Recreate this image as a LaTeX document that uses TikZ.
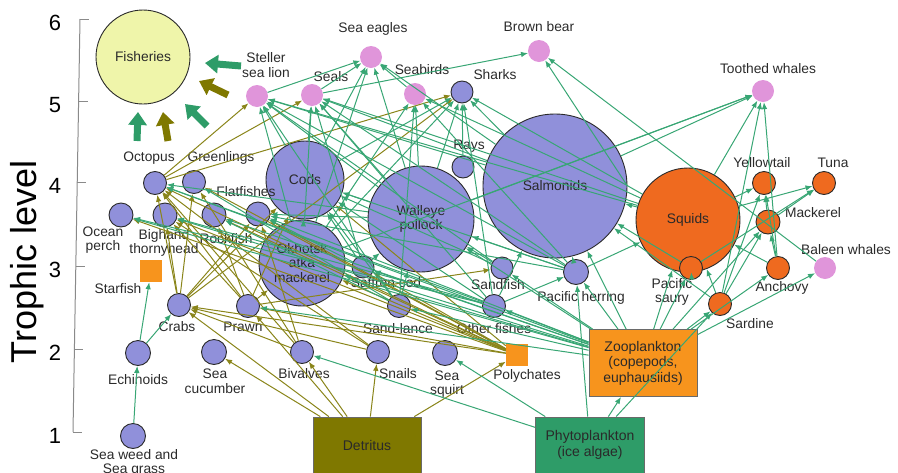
\documentclass[tikz,border=0pt]{standalone}
\usepackage{fontspec}
\setmainfont{Liberation Sans}
\usetikzlibrary{arrows.meta}
\definecolor{fishfill}{HTML}{9090DA}
\definecolor{hotorange}{HTML}{EF6A1F}
\definecolor{paleorange}{HTML}{F7941D}
\definecolor{mammal}{HTML}{E095DA}
\definecolor{fishery}{HTML}{EFF5AA}
\definecolor{detcol}{HTML}{7F7800}
\definecolor{phycol}{HTML}{2E9C68}
\definecolor{greenflow}{HTML}{38A674}
\definecolor{oliveflow}{HTML}{8A851A}
\definecolor{ink}{HTML}{2A2A2A}
\definecolor{axisgray}{HTML}{8A8A8A}
\begin{document}
\begin{tikzpicture}[x=1pt,y=-1pt,
  font=\fontsize{13.8}{14.5}\selectfont,
  every node/.style={text=ink},
  sp/.style={circle,draw=ink,line width=0.9pt,fill=fishfill,minimum size=#1,inner sep=0pt,align=center},
  sp/.default=23pt,
  hot/.style={sp=#1,fill=hotorange},
  hot/.default=23pt,
  mam/.style={circle,fill=mammal,minimum size=22pt,inner sep=0pt},
  sq/.style={rectangle,fill=paleorange,minimum size=22pt,inner sep=0pt},
  lbl/.style={align=center,inner sep=0pt},
  ge/.style={draw=greenflow,line width=1pt,-{Latex[length=7pt,width=5.5pt]}},
  oe/.style={draw=oliveflow,line width=1pt,-{Latex[length=7pt,width=5.5pt]}},
  catch/.style={line width=7pt,-{Triangle[length=13pt,width=18pt]}},
  base/.style={rectangle,draw=ink!70,line width=0.8pt,align=center,inner sep=0pt,font=\fontsize{14}{15.5}\selectfont},
]
\useasboundingbox (0,0) rectangle (898,472);

% ---- trophic level axis ----
\draw[axisgray,line width=1pt] (80,19) -- (73,432);
\foreach \yy/\xx/\n in {19/80/6, 101/78.6/5, 182/77.2/4, 266/75.8/3, 349/74.4/2, 432/73/1}{
  \draw[axisgray,line width=1pt] (\xx,\yy) -- ++(9,0);
  \node[font=\fontsize{22}{22}\selectfont,text=black] (tick\n) at (55,\yy+4) {\n};
}
\node[rotate=90,font=\fontsize{36}{36}\selectfont,text=black] (axistitle) at (27,262) {Trophic level};

% ---- species and groups ----
\node[sp=94pt,fill=fishery] (fisheries) at (143,57) {Fisheries};

\node[mam] (sealion)   at (257,96) {};
\node[mam] (seals)     at (312,95) {};
\node[mam] (seaeagles) at (371,57) {};
\node[mam] (seabirds)  at (415,94) {};
\node[mam] (brownbear) at (539,51) {};
\node[mam] (toothed)   at (763,91) {};
\node[mam] (baleen)    at (825,268) {};

\node[sp=22pt] (sharks) at (462,92) {};
\node[sp=22pt] (rays)   at (463,167) {};
\node[sp=78pt] (cods)   at (305,180) {Cods};
\node[sp=106pt] (walleye) at (421,219) {Walleye\\pollock};
\node[sp=144pt] (salmonids) at (555,186) {Salmonids};
\node[hot=104pt] (squids) at (688,220) {Squids};
\node[sp=86pt] (okhotsk) at (302,263) {Okhotsk\\atka\\mackerel};

\node[sp] (octopus)    at (155,183) {};
\node[sp] (greenlings) at (194,182) {};
\node[sp=24pt] (flatfishes) at (258,214) {};
\node[sp=24pt] (oceanperch) at (121,215) {};
\node[sp=24pt] (bighand)    at (165,215) {};
\node[sp=24pt] (rockfish)   at (214,215) {};
\node[sq] (starfish) at (151,271) {};
\node[sp] (crabs) at (179,305) {};
\node[sp] (prawn) at (248,306) {};
\node[sp=22pt] (saffron) at (363,267) {};
\node[sp] (sandlance) at (399,306) {};
\node[sp=22pt] (sandfish) at (502,268) {};
\node[sp] (otherfish) at (494,306) {};
\node[sp=25pt] (herring) at (576,272) {};
\node[hot] (saury) at (691,268) {};
\node[hot] (sardine) at (720,304) {};
\node[hot] (anchovy) at (778,268) {};
\node[hot] (yellowtail) at (764,183) {};
\node[hot] (tuna) at (824,183) {};
\node[hot=24pt] (mackerel) at (768,222) {};
\node[sp=25pt] (echinoids) at (138,353) {};
\node[sp=25pt] (seacucumber) at (214,352) {};
\node[sp] (bivalves) at (302,352) {};
\node[sp] (snails) at (378,352) {};
\node[sp=25pt] (seasquirt) at (445,353) {};
\node[sq] (polychates) at (517,355) {};
\node[sp=25pt] (seaweed) at (133,436) {};

\node[base,fill=detcol,minimum width=108pt,minimum height=56pt] (detritus) at (367,445) {Detritus};
\node[base,fill=phycol,minimum width=109pt,minimum height=56pt] (phyto) at (590,445) {Phytoplankton\\(ice algae)};
\node[base,fill=paleorange,minimum width=108pt,minimum height=67pt] (zoo) at (643,363) {Zooplankton\\(copepods,\\euphausiids)};

% ---- names beside the small circles ----
\node[lbl] (sealion-l)   at (266,65)  {Steller\\sea lion};
\node[lbl] (seals-l)     at (331,77)  {Seals};
\node[lbl] (seaeagles-l) at (373,29)  {Sea eagles};
\node[lbl] (seabirds-l)  at (422,70)  {Seabirds};
\node[lbl] (sharks-l)    at (495,75)  {Sharks};
\node[lbl] (brownbear-l) at (539,27)  {Brown bear};
\node[lbl] (toothed-l)   at (768,69)  {Toothed whales};
\node[lbl] (rays-l)      at (469,146) {Rays};
\node[lbl] (octopus-l)   at (149,158) {Octopus};
\node[lbl] (greenlings-l) at (221,158) {Greenlings};
\node[lbl] (flatfishes-l) at (246,192) {Flatfishes};
\node[lbl] (oceanperch-l) at (103,240) {Ocean\\perch};
\node[lbl] (bighand-l)   at (164,243) {Bighand\\thornyhead};
\node[lbl] (rockfish-l)  at (226,239) {Rockfish};
\node[lbl] (starfish-l)  at (118,289) {Starfish};
\node[lbl] (crabs-l)     at (177,327) {Crabs};
\node[lbl] (prawn-l)     at (243,327) {Prawn};
\node[lbl] (saffron-l)   at (386,283) {Saffron cod};
\node[lbl] (sandlance-l) at (398,329) {Sand-lance};
\node[lbl] (sandfish-l)  at (498,285) {Sandfish};
\node[lbl] (otherfish-l) at (494,329) {Other fishes};
\node[lbl] (herring-l)   at (581,298) {Pacific herring};
\node[lbl] (saury-l)     at (672,292) {Pacific\\saury};
\node[lbl] (sardine-l)   at (750,324) {Sardine};
\node[lbl] (anchovy-l)   at (782,288) {Anchovy};
\node[lbl] (baleen-l)    at (846,250) {Baleen whales};
\node[lbl] (yellowtail-l) at (762,163) {Yellowtail};
\node[lbl] (tuna-l)      at (833,163) {Tuna};
\node[lbl] (mackerel-l)  at (813,213) {Mackerel};
\node[lbl] (echinoids-l) at (138,380) {Echinoids};
\node[lbl] (seacucumber-l) at (215,381) {Sea\\cucumber};
\node[lbl] (bivalves-l)  at (304,374) {Bivalves};
\node[lbl] (snails-l)    at (398,374) {Snails};
\node[lbl] (seasquirt-l) at (447,384) {Sea\\squirt};
\node[lbl] (polychates-l) at (527,376) {Polychates};
\node[lbl] (seaweed-l)   at (134,463) {Sea weed and\\Sea grass};

% ---- catches flowing to the fisheries ----
\coordinate (c1a) at (241,66);  \coordinate (c1b) at (205,63);
\coordinate (c2a) at (228,95);  \coordinate (c2b) at (199,81);
\coordinate (c3a) at (207,126); \coordinate (c3b) at (185,104);
\coordinate (c4a) at (168,141); \coordinate (c4b) at (163,112);
\coordinate (c5a) at (137,141); \coordinate (c5b) at (138,112);
\draw[catch,phycol] (c1a) -- (c1b);
\draw[catch,detcol] (c2a) -- (c2b);
\draw[catch,phycol] (c3a) -- (c3b);
\draw[catch,detcol] (c4a) -- (c4b);
\draw[catch,phycol] (c5a) -- (c5b);

% ---- detritus-based flows ----
\foreach \a/\b in {detritus/bivalves, detritus/snails, detritus/polychates, detritus/seacucumber,
  detritus/crabs, detritus/prawn,
  polychates/crabs, polychates/prawn, polychates/octopus, polychates/bighand, polychates/rockfish,
  polychates/flatfishes, polychates/greenlings, polychates/cods, polychates/okhotsk, polychates/saffron,
  polychates/oceanperch,
  crabs/octopus, crabs/bighand, crabs/cods, crabs/sharks, crabs/flatfishes, crabs/greenlings,
  prawn/octopus, prawn/sandfish, prawn/cods, prawn/rockfish, prawn/okhotsk, prawn/bighand,
  bivalves/octopus, bivalves/crabs, bivalves/flatfishes, bivalves/greenlings,
  snails/octopus, snails/crabs, snails/bighand,
  octopus/sealion, octopus/sharks, octopus/seals}
  {\draw[oe] (\a) -- (\b);}

% ---- grazing-based flows ----
\foreach \a/\b in {seaweed/echinoids, echinoids/starfish, echinoids/crabs,
  phyto/zoo, phyto/seasquirt, phyto/bivalves, phyto/herring, phyto/sardine,
  zoo/herring, zoo/sandfish, zoo/otherfish, zoo/sandlance, zoo/saffron, zoo/walleye, zoo/okhotsk,
  zoo/salmonids, zoo/squids, zoo/saury, zoo/sardine, zoo/anchovy, zoo/baleen, zoo/prawn,
  zoo/oceanperch, zoo/rockfish, zoo/flatfishes, zoo/bighand, zoo/mackerel, zoo/octopus,
  herring/salmonids, herring/squids, herring/walleye, herring/cods, herring/seals, herring/sealion,
  herring/seabirds, herring/flatfishes,
  sandlance/cods, sandlance/walleye, sandlance/seabirds, sandlance/sealion, sandlance/greenlings,
  sandlance/rockfish,
  otherfish/cods, otherfish/sharks, otherfish/seals, otherfish/salmonids, otherfish/herring,
  otherfish/octopus, otherfish/oceanperch, otherfish/bighand,
  saffron/cods, saffron/walleye, saffron/seals, saffron/flatfishes,
  sandfish/walleye, sandfish/cods, sandfish/sealion,
  walleye/cods, walleye/sharks, walleye/seals, walleye/sealion, walleye/seaeagles, walleye/seabirds,
  walleye/toothed, walleye/octopus, walleye/flatfishes,
  okhotsk/cods, okhotsk/seals, okhotsk/sealion, okhotsk/sharks, okhotsk/seaeagles, okhotsk/toothed,
  okhotsk/seabirds,
  cods/seals, cods/sealion, cods/sharks, cods/seaeagles,
  salmonids.east/brownbear, baleen/brownbear, salmonids/seaeagles, salmonids/seals, salmonids/sharks,
  salmonids/toothed, salmonids/sealion,
  squids/sharks, squids/toothed, squids/seals, squids/seabirds, squids/sealion, squids/salmonids,
  squids/yellowtail, squids/tuna,
  rays/sharks,
  saury/squids, saury/tuna, saury/salmonids,
  sardine/yellowtail, sardine/squids, sardine/toothed, sardine/mackerel, sardine/salmonids,
  anchovy/yellowtail, anchovy/toothed, anchovy/squids, anchovy/mackerel,
  mackerel/tuna, mackerel/yellowtail,
  seabirds/seaeagles, seals/brownbear, sealion/seaeagles, seals/seaeagles}
  {\draw[ge] (\a) -- (\b);}
\end{tikzpicture}
\end{document}
